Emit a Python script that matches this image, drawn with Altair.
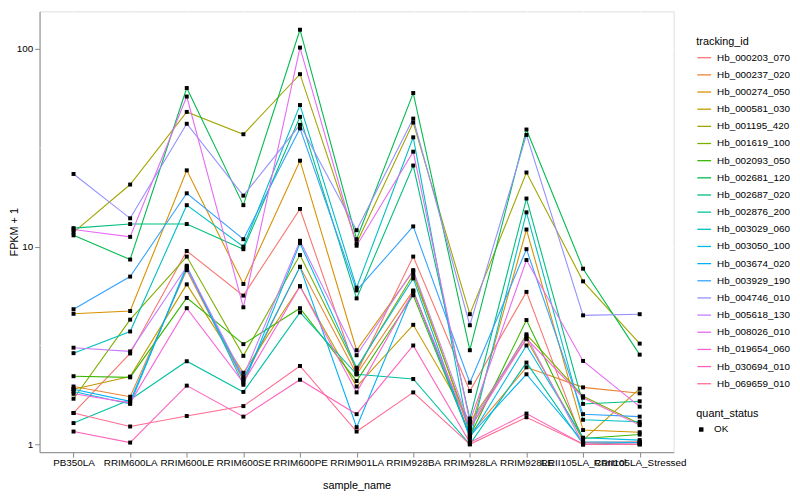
import altair as alt
import pandas as pd

samples = ["PB350LA", "RRIM600LA", "RRIM600LE", "RRIM600SE", "RRIM600PE",
           "RRIM901LA", "RRIM928BA", "RRIM928LA", "RRIM928LE",
           "RRII105LA_Control", "RRII105LA_Stressed"]

tracking_ids = ["Hb_000203_070", "Hb_000237_020", "Hb_000274_050", "Hb_000581_030",
                "Hb_001195_420", "Hb_001619_100", "Hb_002093_050", "Hb_002681_120",
                "Hb_002687_020", "Hb_002876_200", "Hb_003029_060", "Hb_003050_100",
                "Hb_003674_020", "Hb_003929_190", "Hb_004746_010", "Hb_005618_130",
                "Hb_008026_010", "Hb_019654_060", "Hb_030694_010", "Hb_069659_010"]

palette = ["#F8766D", "#EA8331", "#D89000", "#C09B00", "#A3A500", "#7CAE00",
           "#39B600", "#00BB4E", "#00BF7D", "#00C1A3", "#00BFC4", "#00BAE0",
           "#00B0F6", "#35A2FF", "#9590FF", "#C77CFF", "#E76BF3", "#FA62DB",
           "#FF62BC", "#FF6C91"]

# FPKM + 1 per sample (same order as `samples`)
hb_000203_070 = [1.44, 2.88, 9.5, 5.65, 15.5, 2.3, 8.9, 1.86, 5.9, 1.02, 1.03]
hb_000237_020 = [1.96, 1.74, 7.6, 2.1, 7.9, 2.26, 6.0, 1.12, 2.45, 1.94, 1.81]
hb_000274_050 = [4.57, 4.72, 24.3, 6.47, 27.2, 2.99, 7.5, 1.15, 12.2, 1.18, 1.15]
hb_000581_030 = [1.9, 2.2, 6.44, 2.3, 6.3, 1.96, 4.02, 1.3, 3.4, 1.05, 1.91]
hb_001195_420 = [11.8, 20.6, 48.0, 37.0, 74.5, 10.4, 42.4, 4.55, 23.7, 6.67, 3.23]
hb_001619_100 = [1.70, 4.27, 8.9, 2.8, 9.06, 2.4, 7.2, 1.2, 3.6, 1.75, 1.27]
hb_002093_050 = [2.21, 2.18, 5.5, 3.21, 4.88, 2.09, 5.67, 1.1, 4.25, 1.07, 1.12]
hb_002681_120 = [11.4, 8.6, 63.4, 16.2, 125.0, 10.9, 59.8, 2.99, 39.1, 7.73, 2.84]
hb_002687_020 = [12.4, 13.0, 13.0, 9.7, 45.3, 5.47, 25.7, 1.35, 17.5, 1.6, 1.65]
hb_002876_200 = [1.28, 1.68, 2.63, 1.84, 4.65, 2.26, 2.14, 1.0, 2.59, 1.0, 1.02]
hb_003029_060 = [2.89, 3.72, 16.2, 10.0, 52.0, 6.2, 35.7, 1.05, 14.9, 1.33, 1.3]
hb_003050_100 = [1.85, 1.6, 8.0, 2.0, 10.4, 2.44, 6.9, 1.08, 3.16, 1.08, 1.05]
hb_003674_020 = [1.9, 1.65, 7.8, 2.15, 7.9, 1.22, 5.95, 1.1, 2.26, 1.03, 1.02]
hb_003929_190 = [4.82, 7.05, 18.6, 10.9, 39.6, 6.0, 12.65, 2.05, 9.7, 1.42, 1.38]
hb_004746_010 = [23.3, 13.9, 41.8, 18.1, 41.3, 12.1, 44.4, 4.0, 36.7, 4.49, 4.55]
hb_005618_130 = [3.08, 2.95, 7.9, 2.2, 10.7, 2.82, 7.6, 1.25, 3.53, 1.0, 1.0]
hb_008026_010 = [12.2, 11.2, 57.4, 4.93, 101.5, 10.1, 30.2, 1.3, 8.55, 2.64, 1.55]
hb_019654_060 = [1.8, 1.62, 4.88, 2.05, 6.3, 1.83, 5.9, 1.2, 3.42, 1.72, 1.25]
hb_030694_010 = [1.16, 1.02, 1.98, 1.38, 2.12, 1.42, 3.16, 1.02, 1.43, 1.0, 1.0]
hb_069659_010 = [1.44, 1.23, 1.39, 1.56, 2.49, 1.16, 1.83, 1.0, 1.37, 1.0, 1.0]

series = [hb_000203_070, hb_000237_020, hb_000274_050, hb_000581_030, hb_001195_420,
          hb_001619_100, hb_002093_050, hb_002681_120, hb_002687_020, hb_002876_200,
          hb_003029_060, hb_003050_100, hb_003674_020, hb_003929_190, hb_004746_010,
          hb_005618_130, hb_008026_010, hb_019654_060, hb_030694_010, hb_069659_010]

major_breaks = [1, 10, 100]
minor_breaks = [3.1623, 31.623]

rows = []
for tid, vals in zip(tracking_ids, series):
    for s, v in zip(samples, vals):
        rows.append({"tracking_id": tid, "sample_name": s, "fpkm": v, "quant_status": "OK"})
df = pd.DataFrame(rows)
minor_df = pd.DataFrame({"v": minor_breaks})

FONT = "Liberation Sans"

x_enc = alt.X("sample_name:N", sort=samples,
              scale=alt.Scale(padding=0.6),
              axis=alt.Axis(title="sample_name", labelAngle=0, labelOverlap=False,
                            grid=True, gridColor="white", gridWidth=1.1,
                            labelFlush=False, labelPadding=1, titleY=28,
                            titleFontWeight=400))
y_enc = alt.Y("fpkm:Q",
              scale=alt.Scale(type="log", domain=[0.912, 154.8], nice=False),
              axis=alt.Axis(title="FPKM + 1", values=major_breaks, format="d",
                            grid=True, gridColor="white", gridWidth=1.1,
                            titleX=-20, titleFontWeight=400))

minor = alt.Chart(minor_df).mark_rule(color="white", strokeWidth=0.55).encode(
    y=alt.Y("v:Q")
)

lines = alt.Chart(df).mark_line(strokeWidth=1.1).encode(
    x=x_enc, y=y_enc,
    color=alt.Color("tracking_id:N",
                    scale=alt.Scale(domain=tracking_ids, range=palette),
                    legend=alt.Legend(title="tracking_id", orient="none",
                                      legendX=666, legendY=25,
                                      symbolType="stroke", symbolSize=196,
                                      symbolStrokeWidth=1.3, rowPadding=4.4,
                                      labelOffset=5, titlePadding=3,
                                      titleFontWeight=400)),
)

points = alt.Chart(df).mark_point(filled=True, shape="square", size=16,
                                  color="black", opacity=1).encode(
    x=alt.X("sample_name:N", sort=samples),
    y=alt.Y("fpkm:Q"),
    shape=alt.Shape("quant_status:N",
                    scale=alt.Scale(domain=["OK"], range=["square"]),
                    legend=alt.Legend(title="quant_status", orient="none",
                                      legendX=666, legendY=402,
                                      symbolSize=20, symbolFillColor="black",
                                      symbolStrokeColor="black",
                                      labelOffset=8, titlePadding=6,
                                      titleFontWeight=400)),
)

chart = alt.layer(minor, lines, points).properties(
    width=643, height=447,
    autosize=alt.AutoSizeParams(type="none"),
    padding={"left": 32, "top": 0, "right": 120, "bottom": 40},
).configure_view(
    fill="#EBEBEB", stroke="transparent"
).configure_axis(
    domain=False, tickColor="#333333", tickSize=3, tickWidth=1,
    labelColor="#4D4D4D", labelFontSize=9, labelFont=FONT,
    titleFont=FONT, titleFontSize=11, titleFontWeight=400, titleColor="black",
).configure_legend(
    titleFont=FONT, titleFontSize=11, titleFontWeight=400, titleColor="black",
    labelFont=FONT, labelFontSize=9, labelColor="black",
).configure(background="white")

chart.save("out.html", embed_options={"renderer": "svg", "actions": False})
